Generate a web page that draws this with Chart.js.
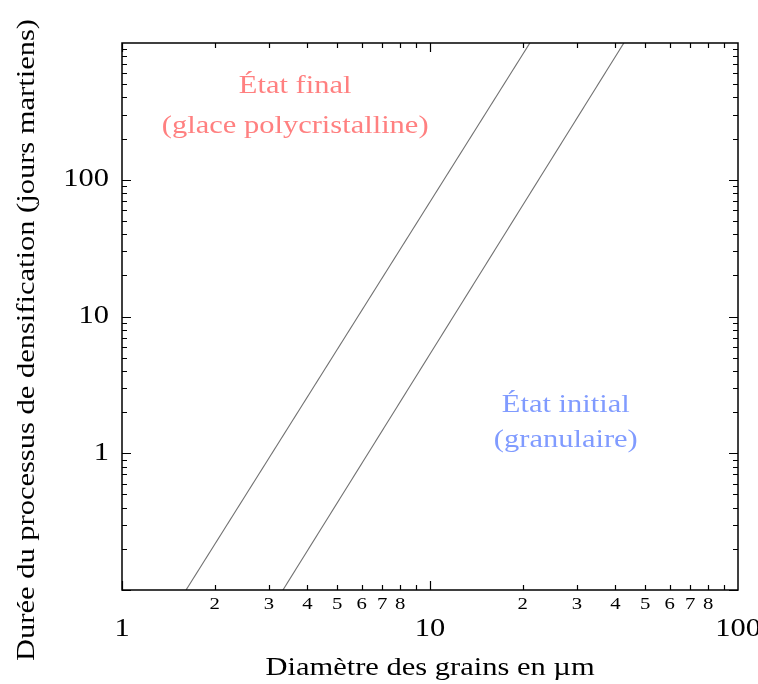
<!DOCTYPE html>
<html>
<head>
<meta charset="utf-8">
<script src="https://cdn.jsdelivr.net/npm/chart.js@4"></script>
<style>
  body { margin: 0; background: #fff; }
  #wrap { width: 758px; height: 684px; position: relative; }
</style>
</head>
<body>
<div id="wrap"><canvas id="chart"></canvas></div>
<script>
// data (log-log)
const finalLine = [{ x: 1.614, y: 0.1 }, { x: 21.1, y: 1000 }];
const initialLine = [{ x: 3.33, y: 0.1 }, { x: 42.6, y: 1000 }];

const xMajorTicks = [1, 10, 100];
const xMajorLabels = ['1', '10', '100'];
const xMinorTicks = [2, 3, 4, 5, 6, 7, 8, 20, 30, 40, 50, 60, 70, 80];
const xMinorLabels = ['2', '3', '4', '5', '6', '7', '8', '2', '3', '4', '5', '6', '7', '8'];
const yMajorTicks = [1, 10, 100];
const yMajorLabels = ['1', '10', '100'];

const xTitle = 'Diamètre des grains en µm';
const yTitle = 'Durée du processus de densification (jours martiens)';

const notes = [
  { lines: ['État final', '(glace polycristalline)'], x: 3.65, y: [480, 247], color: '#ff8080' },
  { lines: ['État initial', '(granulaire)'], x: 27.6, y: [2.24, 1.245], color: '#809bff' }
];

const FONT = '"Liberation Serif", "DejaVu Serif", serif';
const WIDE = 1.22; // Liberation is narrower than the Computer Modern look of the original

// frame, inward ticks on all four sides, labels and notes
const decor = {
  id: 'decor',
  afterDatasetsDraw(chart) {
    const { ctx, chartArea: a, scales: { x, y } } = chart;
    const text = (s, px, py, align, rot) => {
      ctx.save();
      ctx.translate(px, py);
      if (rot) ctx.rotate(rot);
      ctx.scale(WIDE, 1);
      ctx.textAlign = align;
      ctx.fillText(s, 0, 0);
      ctx.restore();
    };
    ctx.save();
    ctx.strokeStyle = '#000';

    // minor/major ticks
    ctx.lineWidth = 1.2;
    ctx.beginPath();
    for (let d = 1; d <= 10; d *= 10) {
      for (let m = 1; m <= 9; m++) {
        const px = Math.round(x.getPixelForValue(d * m)) + 0.5;
        const len = m === 1 ? 9 : 5;
        ctx.moveTo(px, a.bottom); ctx.lineTo(px, a.bottom - len);
        ctx.moveTo(px, a.top); ctx.lineTo(px, a.top + len);
      }
    }
    for (let d = 0.1; d <= 100; d *= 10) {
      for (let m = 1; m <= 9; m++) {
        const py = Math.round(y.getPixelForValue(d * m)) + 0.5;
        const len = m === 1 ? 9 : 5;
        ctx.moveTo(a.left, py); ctx.lineTo(a.left + len, py);
        ctx.moveTo(a.right, py); ctx.lineTo(a.right - len, py);
      }
    }
    ctx.stroke();

    ctx.lineWidth = 1.5;
    ctx.strokeRect(a.left, a.top, a.right - a.left, a.bottom - a.top);

    // tick labels
    ctx.fillStyle = '#000';
    ctx.textBaseline = 'middle';
    ctx.font = '25px ' + FONT;
    xMajorTicks.forEach((v, i) => text(xMajorLabels[i], x.getPixelForValue(v), a.bottom + 39, 'center'));
    ctx.font = '17px ' + FONT;
    xMinorTicks.forEach((v, i) => text(xMinorLabels[i], x.getPixelForValue(v), a.bottom + 15, 'center'));
    ctx.font = '25px ' + FONT;
    yMajorTicks.forEach((v, i) => text(yMajorLabels[i], a.left - 13, y.getPixelForValue(v), 'right'));

    // axis titles
    ctx.font = '25px ' + FONT;
    text(xTitle, (a.left + a.right) / 2, a.bottom + 78, 'center');
    text(yTitle, 27, 340, 'center', -Math.PI / 2);

    // notes
    notes.forEach(n => {
      ctx.fillStyle = n.color;
      n.lines.forEach((t, i) => text(t, x.getPixelForValue(n.x), y.getPixelForValue(n.y[i]), 'center'));
    });
    ctx.restore();
  }
};

const ctx = document.getElementById('chart').getContext('2d');
const chart = new Chart(ctx, {
  type: 'scatter',
  data: {
    datasets: [
      { data: finalLine, showLine: true, borderColor: '#707070', borderWidth: 1.1, pointRadius: 0 },
      { data: initialLine, showLine: true, borderColor: '#707070', borderWidth: 1.1, pointRadius: 0 }
    ]
  },
  options: {
    responsive: true,
    maintainAspectRatio: false,
    animation: false,
    layout: { padding: { left: 122, right: 20, top: 43, bottom: 94 } },
    plugins: { legend: { display: false }, tooltip: { enabled: false } },
    scales: {
      x: { type: 'logarithmic', min: 1, max: 100, display: false },
      y: { type: 'logarithmic', min: 0.1, max: 1000, display: false }
    }
  },
  plugins: [decor]
});
</script>
</body>
</html>
